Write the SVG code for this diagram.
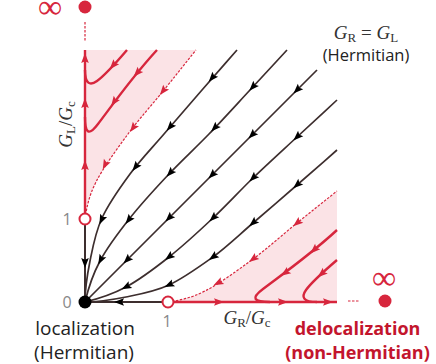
<svg xmlns="http://www.w3.org/2000/svg" width="436" height="364" viewBox="0 0 436 364">
<defs>
<style>
.flow{fill:none;stroke:#3d2e2e;stroke-width:1.7}
.axb{fill:none;stroke:#3d2e2e;stroke-width:2}
.rflow{fill:none;stroke:#d7263d;stroke-width:2.4}
.sep{fill:none;stroke:#d7263d;stroke-width:1.2;stroke-dasharray:2.5 1.5}
.shade{fill:#fbe3e6}
.ab{fill:#000}
.ar{fill:#d7263d}
.lbl{font-family:"Open Sans","Liberation Sans",Arial,sans-serif;fill:#222}
.rlbl{font-family:"Open Sans","Liberation Sans",Arial,sans-serif;fill:#c3152d;font-weight:bold}
.math{font-family:"Liberation Serif","DejaVu Serif",serif;fill:#333}
.num{font-family:"Open Sans","Liberation Sans",sans-serif;fill:#888;font-size:16px}
.inf{font-family:"Liberation Serif","DejaVu Serif",serif;fill:#d7263d;font-size:34px}
</style>
<path id="ah" d="M5,0 L-5,-3.8 L-3.2,0 L-5,3.8 Z"/>
</defs>

<g id="regions">
<path class="shade" d="M85,50 L196,50 C185.3,63.3 175.3,76 164,90 C152.7,104 139.3,118.7 128,134 C116.7,149.3 103.2,167.8 96,182 C88.8,196.2 86.8,207 85,219 Z"/>
<path class="shade" d="M168,302 C180,300.2 190.8,298.2 205,291 C219.2,283.8 237.7,270.3 253,259 C268.3,247.7 283,234.3 297,223 C311,211.7 323.7,201.7 337,191 L337,302 Z"/>
</g>

<g id="connectors">
<path class="flow" d="M85,302 C98.7,302 112,299.8 126,297 C140,294.2 154.5,291.7 169,285 C183.5,278.3 199,267 213,257 C227,246.7 239,235 253,223 C267,211 283,197.2 297,185 C311,172.8 323.7,161.7 337,150"/>
<path class="flow" d="M85,302 C98.7,298.7 112,294.5 126,287 C140,279.5 154.5,268.5 169,257 C183.5,245.5 199,231.2 213,218 C227,204.8 239,191.5 253,178 C267,164.5 283,150 297,137 C311,124 323.7,112.3 337,100"/>
<path class="flow" d="M85,302 L317,70"/>
<path class="flow" d="M85,302 C88.3,288.3 92.5,275 100,261 C107.5,247 118.5,232.5 130,218 C141.5,203.5 155.8,188 169,174 C182.2,160 195.5,148 209,134 C222.5,120 237,104 250,90 C263,76 274.7,63.3 287,50"/>
<path class="flow" d="M85,302 C85,288.3 87.2,275 90,261 C92.8,247 95.3,232.5 102,218 C108.7,203.5 119.7,188 130,174 C140.3,160 152,148 164,134 C176,120 189.8,104 202,90 C214.2,76 225.3,63.3 237,50"/>
<path class="axb" d="M85,219 L85,302 L168,302"/>
<path class="rflow" d="M85,219 L85,50"/>
<path class="rflow" d="M168,302 L337,302"/>
<path class="rflow" d="M127,50 C115,64 104,76 97,81 C90,86 85,84 85,70"/>
<path class="rflow" d="M157,50 C132,77 111,107 98,124 C89,136 85,134 85,117"/>
<path class="rflow" d="M337,260 C323,272 311,283 306,290 C301,297 303,302 317,302"/>
<path class="rflow" d="M337,230 C310,255 280,276 263,289 C251,298 253,302 270,302"/>
<path class="sep" d="M85,219 C86.8,207 88.8,196.2 96,182 C103.2,167.8 116.7,149.3 128,134 C139.3,118.7 152.7,104 164,90 C175.3,76 185.3,63.3 196,50"/>
<path class="sep" d="M168,302 C180,300.2 190.8,298.2 205,291 C219.2,283.8 237.7,270.3 253,259 C268.3,247.7 283,234.3 297,223 C311,211.7 323.7,201.7 337,191"/>
<path class="sep" d="M85,22 L85,41"/>
<path class="sep" d="M348,301 L359,301"/>
<g class="ab">
<use href="#ah" transform="translate(169,285) rotate(155)"/>
<use href="#ah" transform="translate(213,257) rotate(144)"/>
<use href="#ah" transform="translate(253,223) rotate(139)"/>
<use href="#ah" transform="translate(297,185) rotate(139)"/>
<use href="#ah" transform="translate(126,287) rotate(152)"/>
<use href="#ah" transform="translate(169,257) rotate(142)"/>
<use href="#ah" transform="translate(213,218) rotate(137)"/>
<use href="#ah" transform="translate(253,178) rotate(136)"/>
<use href="#ah" transform="translate(297,137) rotate(137)"/>
<use href="#ah" transform="translate(127,260) rotate(135)"/>
<use href="#ah" transform="translate(169,218) rotate(135)"/>
<use href="#ah" transform="translate(212,175) rotate(135)"/>
<use href="#ah" transform="translate(252,135) rotate(135)"/>
<use href="#ah" transform="translate(297,90) rotate(135)"/>
<use href="#ah" transform="translate(100.6,260) rotate(118)"/>
<use href="#ah" transform="translate(128.6,220) rotate(128)"/>
<use href="#ah" transform="translate(170,173) rotate(133)"/>
<use href="#ah" transform="translate(214.6,128) rotate(134)"/>
<use href="#ah" transform="translate(252.7,87) rotate(133)"/>
<use href="#ah" transform="translate(101.5,220) rotate(115)"/>
<use href="#ah" transform="translate(135.5,167) rotate(128)"/>
<use href="#ah" transform="translate(170,127) rotate(131)"/>
<use href="#ah" transform="translate(212,78) rotate(131)"/>
<use href="#ah" transform="translate(85,263) rotate(90)"/>
<use href="#ah" transform="translate(119,302) rotate(180)"/>
</g>
<g class="ar">
<use href="#ah" transform="translate(85,58) rotate(-90)"/>
<use href="#ah" transform="translate(85,103) rotate(-90)"/>
<use href="#ah" transform="translate(85,165) rotate(-90)"/>
<use href="#ah" transform="translate(219,302)"/>
<use href="#ah" transform="translate(283,302)"/>
<use href="#ah" transform="translate(328,302)"/>
<use href="#ah" transform="translate(163,91) rotate(129)"/>
<use href="#ah" transform="translate(133,128) rotate(126)"/>
<use href="#ah" transform="translate(105,165) rotate(117)"/>
<use href="#ah" transform="translate(297,223) rotate(141)"/>
<use href="#ah" transform="translate(253,259) rotate(143.5)"/>
<use href="#ah" transform="translate(218,283) rotate(153)"/>
<use href="#ah" transform="translate(113,65.5) rotate(131)"/>
<use href="#ah" transform="translate(137,73) rotate(133)"/>
<use href="#ah" transform="translate(114,102) rotate(125)"/>
<use href="#ah" transform="translate(321.5,274) rotate(139)"/>
<use href="#ah" transform="translate(314,250) rotate(137)"/>
<use href="#ah" transform="translate(285,273) rotate(145)"/>
</g>
</g>

<g id="origin">
<circle cx="85" cy="302" r="6.5" fill="#000"/>
<text class="num" x="67" y="308" text-anchor="middle">0</text>
</g>
<g id="fp-GL1">
<circle cx="85" cy="219" r="5.5" fill="#fff" stroke="#d7263d" stroke-width="2"/>
<text class="num" x="67" y="225" text-anchor="middle">1</text>
</g>
<g id="fp-GR1">
<circle cx="168" cy="302" r="5.5" fill="#fff" stroke="#d7263d" stroke-width="2"/>
<text class="num" x="167" y="327" text-anchor="middle">1</text>
</g>
<g id="inf-top">
<circle cx="85" cy="7" r="6.5" fill="#d7263d"/>
<text class="inf" x="50" y="18" text-anchor="middle">∞</text>
</g>
<g id="inf-right">
<circle cx="385" cy="301" r="6.5" fill="#d7263d"/>
<text class="inf" x="384" y="289" text-anchor="middle">∞</text>
</g>

<g id="axis-labels">
<text class="math" x="247" y="323.5" font-size="19" text-anchor="middle"><tspan font-style="italic">G</tspan><tspan font-size="13" dy="3">R</tspan><tspan dy="-3">/</tspan><tspan font-style="italic">G</tspan><tspan font-size="13" dy="3">c</tspan></text>
<text class="math" transform="translate(72,124.5) rotate(-90)" font-size="19" text-anchor="middle"><tspan font-style="italic">G</tspan><tspan font-size="13" dy="3">L</tspan><tspan dy="-3">/</tspan><tspan font-style="italic">G</tspan><tspan font-size="13" dy="3">c</tspan></text>
</g>

<g id="diag-label">
<text class="math" x="366" y="39" font-size="19" text-anchor="middle"><tspan font-style="italic">G</tspan><tspan font-size="13" dy="2.5">R</tspan><tspan dy="-2.5"> = </tspan><tspan font-style="italic">G</tspan><tspan font-size="13" dy="2.5">L</tspan></text>
<text class="lbl" x="366" y="61" font-size="16.5" text-anchor="middle">(Hermitian)</text>
</g>

<g id="loc-label">
<text class="lbl" x="85" y="335" font-size="19" text-anchor="middle">localization</text>
<text class="lbl" x="84" y="359" font-size="19" text-anchor="middle">(Hermitian)</text>
</g>
<g id="deloc-label">
<text class="rlbl" x="357.5" y="335" font-size="18" text-anchor="middle">delocalization</text>
<text class="rlbl" x="357.5" y="359" font-size="18" text-anchor="middle">(non-Hermitian)</text>
</g>
</svg>
